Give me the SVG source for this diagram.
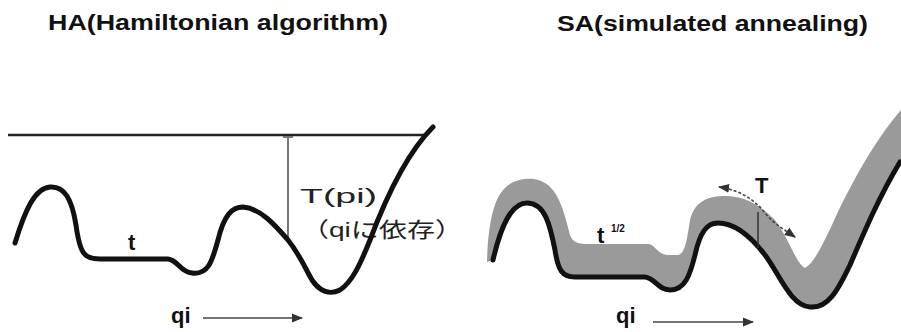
<svg xmlns="http://www.w3.org/2000/svg" width="901" height="332" viewBox="0 0 901 332">
<defs>
<style>
.title{font-family:"Liberation Sans",Arial,sans-serif;font-weight:bold;font-size:22px;fill:#111}
.lbl{font-family:"Liberation Sans","Noto Sans CJK JP",sans-serif;font-size:21px;fill:#222}
.blbl{font-family:"Liberation Sans",Arial,sans-serif;font-weight:bold;font-size:22px;fill:#111}
.curve{fill:none;stroke:#111;stroke-width:5;stroke-linecap:round;stroke-linejoin:round}
.thin{fill:none;stroke:#777;stroke-width:2}
.arr{fill:none;stroke:#444;stroke-width:1.6}
</style>
<marker id="ah" viewBox="0 0 10 10" refX="9" refY="5" markerWidth="7" markerHeight="7" orient="auto-start-reverse">
<path d="M0,1 L10,5 L0,9 Z" fill="#333"/>
</marker>
</defs>
<rect width="901" height="332" fill="#fff"/>

<g id="ha">
<text class="title" x="48" y="30" textLength="340" lengthAdjust="spacingAndGlyphs">HA(Hamiltonian algorithm)</text>
<line x1="8" y1="135" x2="426" y2="135" stroke="#222" stroke-width="2.5"/>
<line class="thin" x1="288" y1="137" x2="288" y2="238"/>
<line x1="283" y1="137" x2="293" y2="137" stroke="#777" stroke-width="2"/>
<text class="lbl" x="300" y="203" textLength="77" lengthAdjust="spacingAndGlyphs">T(pi)</text>
<text class="lbl" x="301" y="237" textLength="162" lengthAdjust="spacingAndGlyphs">（qiに依存）</text>
<path class="curve" d="M15,243 C25,210 35,188 50,187 C65,186 72,200 76,225 C80,255 85,259 100,259 L168,259 C178,260 180,272 192,273 C208,275 212,262 218,240 C224,215 232,207 243,207 C260,208 275,225 288,240 C300,255 305,268 312,280 C320,292 330,295 340,290 C352,282 360,265 370,240 C385,200 405,155 433,127"/>
<text class="blbl" x="128" y="250">t</text>
<text class="blbl" x="171" y="323">qi</text>
<line class="arr" x1="203" y1="318" x2="302" y2="318" marker-end="url(#ah)"/>
</g>

<g id="sa">
<text class="title" x="557" y="31" textLength="311" lengthAdjust="spacingAndGlyphs">SA(simulated annealing)</text>
<path fill="#9a9a9a" d="M487,262 C488,230 492,200 505,188 C515,178 535,175 548,185 C560,195 565,215 570,235 C573,243 578,244 590,244 L648,244 C655,244 657,254 667,255 L678,255 C685,254 687,240 690,220 C695,200 710,196 725,196 C745,196 760,205 775,220 C790,240 795,262 805,268 C815,262 822,245 832,225 C850,185 875,140 901,110 L901,162 C880,195 865,230 850,265 C840,285 830,309 810,307 C790,305 780,275 765,255 C752,238 735,223 718,223 C707,223 700,232 695,255 C690,275 685,290 670,290 C658,290 655,278 645,277 L575,277 C562,277 558,270 555,250 C550,225 545,203 527,203 C510,203 500,230 493,260 Z"/>
<path class="curve" d="M493,260 C500,230 510,203 527,203 C545,203 550,225 555,250 C558,270 562,277 575,277 L645,277 C655,278 658,290 670,290 C685,290 690,275 695,255 C700,232 707,223 718,223 C735,223 752,238 765,255 C780,275 790,305 810,307 C830,309 840,285 850,265 C865,230 880,195 900,162"/>
<line x1="758" y1="212" x2="758" y2="248" stroke="#333" stroke-width="1.5"/>
<path class="arr" stroke-dasharray="3,2" d="M719,187 C740,190 755,200 765,213 C775,225 785,230 795,237" marker-start="url(#ah)" marker-end="url(#ah)"/>
<text class="blbl" x="755" y="193" font-size="22">T</text>
<text class="blbl" x="597" y="243">t</text>
<text class="blbl" x="611" y="232" style="font-size:10px">1/2</text>
<text class="blbl" x="616" y="323">qi</text>
<line class="arr" x1="653" y1="322" x2="753" y2="322" marker-end="url(#ah)"/>
</g>
</svg>
